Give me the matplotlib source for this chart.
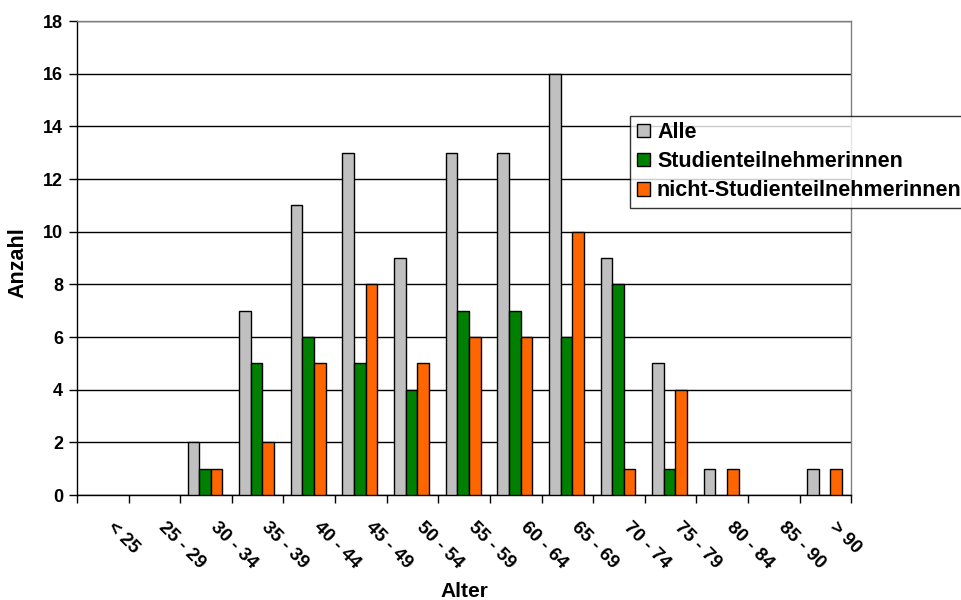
import matplotlib
matplotlib.use("Agg")
import matplotlib.pyplot as plt
import matplotlib.transforms as mtransforms
import numpy as np

plt.rcParams['font.family'] = ['Liberation Sans', 'DejaVu Sans']
plt.rcParams['font.weight'] = 'bold'

categories = ["< 25", "25 - 29", "30 - 34", "35 - 39", "40 - 44", "45 - 49", "50 - 54",
              "55 - 59", "60 - 64", "65 - 69", "70 - 74", "75 - 79", "80 - 84", "85 - 90", "> 90"]
alle = [0, 0, 2, 7, 11, 13, 9, 13, 13, 16, 9, 5, 1, 0, 1]
studien = [0, 0, 1, 5, 6, 5, 4, 7, 7, 6, 8, 1, 0, 0, 0]
nicht_studien = [0, 0, 1, 2, 5, 8, 5, 6, 6, 10, 1, 4, 1, 0, 1]
series_names = ["Alle", "Studienteilnehmerinnen", "nicht-Studienteilnehmerinnen"]
colors = ["#C0C0C0", "#008000", "#FF6600"]

fig = plt.figure(figsize=(9.62, 6.0), dpi=100)
ax = fig.add_axes([0.080, 0.175, 0.805, 0.790])

x = np.arange(len(categories))
w = 0.225
for i, (vals, name, col) in enumerate(zip([alle, studien, nicht_studien], series_names, colors)):
    lw = [1.0 if v > 0 else 0.0 for v in vals]
    ax.bar(x + (i - 1) * w - 0.02, vals, width=w, color=col, edgecolor="black",
           linewidth=lw, label=name, zorder=3)

ax.set_xlim(-0.5, len(categories) - 0.5)
ax.set_ylim(0, 18)
ax.set_yticks(np.arange(0, 19, 2))
ax.yaxis.grid(True, color="black", linewidth=1.0, zorder=0)
ax.set_axisbelow(True)

ax.set_xticks(x)
ax.set_xticklabels(categories, rotation=-45, ha="left", va="top", rotation_mode="anchor",
                   fontsize=13.5, fontweight="bold")
ax.tick_params(axis="x", which="major", length=0, pad=17.5)
shift = mtransforms.ScaledTranslation(13 / 100, 0, fig.dpi_scale_trans)
for lbl in ax.get_xticklabels():
    lbl.set_transform(lbl.get_transform() + shift)
ax.set_xticks(np.arange(-0.5, len(categories), 1.0), minor=True)
ax.tick_params(axis="x", which="minor", length=6, width=1.0, direction="out", color="black")
ax.tick_params(axis="y", length=6, width=1.0, direction="out", labelsize=13, pad=4)
for lbl in ax.get_yticklabels():
    lbl.set_fontweight("bold")

for side in ["top", "right"]:
    ax.spines[side].set_color("#808080")
    ax.spines[side].set_linewidth(1.0)
for side in ["left", "bottom"]:
    ax.spines[side].set_color("black")
    ax.spines[side].set_linewidth(1.0)

ax.set_ylabel("Anzahl", fontsize=15.5, fontweight="bold")
ax.yaxis.set_label_coords(-0.063, 0.49)
ax.set_xlabel("Alter", fontsize=15, fontweight="bold")
ax.xaxis.set_label_coords(0.50, -0.184)

leg = fig.legend(loc="upper left", bbox_to_anchor=(630.5 / 962, 1 - 115.5 / 600),
                 frameon=True, fancybox=False, edgecolor="black",
                 prop={"weight": "bold", "size": 15.5}, handlelength=0.6, handleheight=0.6,
                 handletextpad=0.33, labelspacing=0.38, borderpad=0.3, borderaxespad=0)
leg.get_frame().set_linewidth(1.0)
for handle in leg.legend_handles:
    handle.set_edgecolor("black")
    handle.set_linewidth(1.0)

fig.savefig("out.png", dpi=100)
